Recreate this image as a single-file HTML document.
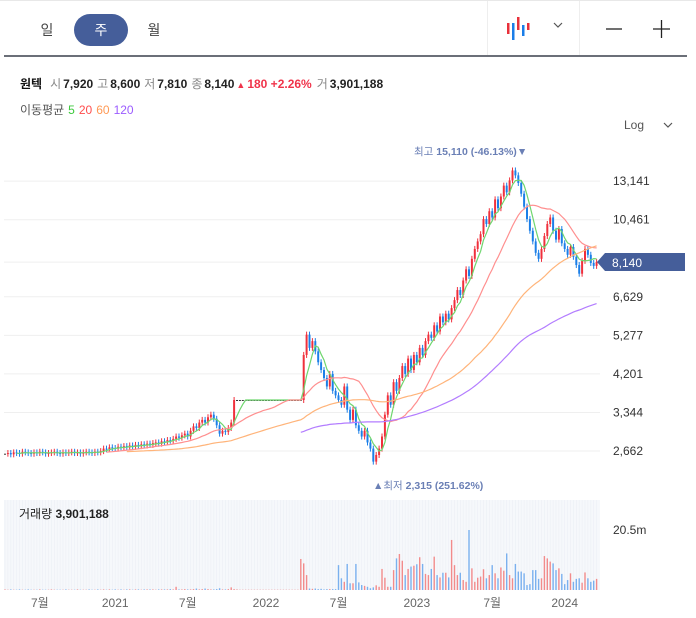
<!DOCTYPE html>
<html><head><meta charset="utf-8">
<style>
body{margin:0;width:696px;height:618px;overflow:hidden;background:#fff;font-family:"Liberation Sans","Noto Sans CJK KR",sans-serif;}
svg{display:block}
text{font-family:"Liberation Sans","Noto Sans CJK KR",sans-serif;}
</style></head><body>
<svg id="chart" width="696" height="618" viewBox="0 0 696 618" xmlns="http://www.w3.org/2000/svg">
 <g>
  <line x1="0" y1="0.5" x2="696" y2="0.5" stroke="#e8e8e8"/>
  <line x1="4" y1="56" x2="687" y2="56" stroke="#6b6f78" stroke-width="2"/>
  <line x1="487.5" y1="1" x2="487.5" y2="55" stroke="#eee"/>
  <line x1="579.5" y1="1" x2="579.5" y2="55" stroke="#eee"/>
  <text x="47" y="35" font-size="14" fill="#444" text-anchor="middle">일</text>
  <rect x="74" y="14" width="54" height="32" rx="16" fill="#455e9a"/>
  <text x="101" y="35" font-size="14" fill="#fff" text-anchor="middle">주</text>
  <text x="154" y="35" font-size="14" fill="#444" text-anchor="middle">월</text>
  <g>
   <rect x="507" y="23" width="2.5" height="11" fill="#e8303a"/>
   <rect x="512" y="23" width="2.5" height="17" fill="#1a7ee8"/>
   <rect x="517" y="17" width="2.5" height="13" fill="#e8303a"/>
   <rect x="522" y="25" width="2.5" height="11" fill="#1a7ee8"/>
   <rect x="527" y="23" width="2.5" height="7" fill="#e8303a"/>
  </g>
  <path d="M554 23 L558 27 L562 23" stroke="#555" fill="none" stroke-width="1.2"/>
  <line x1="606" y1="29" x2="622" y2="29" stroke="#222" stroke-width="1.3"/>
  <g><line x1="653" y1="29" x2="670" y2="29" stroke="#222" stroke-width="1.3"/><line x1="661.5" y1="20" x2="661.5" y2="38" stroke="#222" stroke-width="1.3"/></g>
 </g>
 <g font-size="12">
  <text x="20" y="88"><tspan font-weight="bold" fill="#111">원텍</tspan><tspan fill="#888" dx="8">시</tspan><tspan fill="#222" dx="2" font-weight="bold">7,920</tspan><tspan fill="#888" dx="4">고</tspan><tspan fill="#222" dx="2" font-weight="bold">8,600</tspan><tspan fill="#888" dx="4">저</tspan><tspan fill="#222" dx="2" font-weight="bold">7,810</tspan><tspan fill="#888" dx="4">종</tspan><tspan fill="#222" dx="2" font-weight="bold">8,140</tspan><tspan fill="#f0334a" dx="2" font-size="9">▲</tspan><tspan fill="#f0334a" dx="2" font-weight="bold">180 +2.26%</tspan><tspan fill="#888" dx="5">거</tspan><tspan fill="#222" dx="2" font-weight="bold">3,901,188</tspan></text>
  <text x="20" y="114"><tspan fill="#555">이동평균</tspan><tspan fill="#3cc93c" dx="4">5</tspan><tspan fill="#ff4d4d" dx="4">20</tspan><tspan fill="#ff9955" dx="4">60</tspan><tspan fill="#9b5cff" dx="4">120</tspan></text>
  <text x="624" y="129" fill="#555">Log</text>
  <path d="M664 123 L668 127 L672 123" stroke="#555" fill="none" stroke-width="1.2"/>
 </g>
 <g id="grid"></g>
 <g id="yaxis" font-size="12" fill="#333"></g>
 <rect x="4" y="500" width="596" height="90" fill="#f6f8fb"/>
 <g id="vgrid"></g>
 <g id="candles"></g>
 <g id="mas"></g>
 <g id="vols"></g>
 <g id="xaxis" font-size="12" fill="#666"></g>
 <text x="19" y="518" font-size="12" fill="#222">거래량 <tspan font-weight="bold">3,901,188</tspan></text>
 <text x="613" y="534" font-size="12" fill="#333">20.5m</text>
 <text x="414" y="155" font-size="10.5" fill="#6a7fb5">최고 <tspan font-weight="bold">15,110 (-46.13%)</tspan>▼</text>
 <text x="373" y="489" font-size="10.5" fill="#6a7fb5">▲최저 <tspan font-weight="bold">2,315 (251.62%)</tspan></text>
 <g>
  <path d="M597 262 L605 253 L685 253 L685 271 L605 271 Z" fill="#455e9a"/>
  <text x="612" y="267" font-size="12" fill="#fff">8,140</text>
 </g>
</svg>
<script>
const closes=[2620,2630,2610,2640,2630,2620,2650,2640,2630,2620,2640,2630,2650,2640,2620,2630,2640,2650,2630,2620,2640,2630,2640,2650,2630,2640,2620,2640,2650,2640,2630,2650,2640,2660,
2700,2690,2720,2710,2700,2730,2720,2740,2720,2750,2730,2760,2740,2770,2750,2780,2760,
2790,2800,2780,2820,2810,2840,2830,2860,2900,2880,
2920,2950,2900,3000,3080,3050,3150,3200,3150,3250,3300,3220,
3100,2950,3000,2980,3050,3150,
3600,3600,3600,3600,3600,3600,3600,3600,3600,3600,3600,3600,3600,3600,3600,3600,3600,3600,3600,3600,3600,3600,3600,3600,
4700,5300,4900,5100,4800,
4500,4300,4100,3900,4200,3800,3700,3600,3500,3900,3400,
3200,3400,3100,3000,2900,3000,2800,2700,2500,2600,
2700,2900,3300,3700,3500,4000,3800,
4100,4400,4200,4600,4300,4700,4500,4900,4700,5100,
5300,5200,5600,5400,5900,5700,6000,5800,6200,6500,
6900,6700,7300,7800,7500,8300,8800,9200,9600,10500,10200,
11000,10600,11800,11200,12000,12800,12300,13200,14000,13600,13000,
12200,11300,10500,9800,9200,8600,8300,8800,9500,
10200,10600,9800,9300,9900,9100,8800,8500,8900,8400,
8000,7600,8200,8800,8500,8100,7960,8140];
const volumes=[0.2,0.1,0.2,0.1,0.1,0.2,0.1,0.1,0.2,0.1,0.1,0.1,0.2,0.1,0.1,0.1,0.2,0.1,0.1,0.1,
0.1,0.2,0.1,0.1,0.1,0.2,0.1,0.1,0.1,0.2,0.1,0.1,0.2,0.1,0.2,0.1,0.2,0.1,0.2,0.1,
0.2,0.1,0.2,0.2,0.1,0.2,0.2,0.1,0.2,0.2,0.2,0.2,0.1,0.2,0.2,0.2,0.2,0.3,0.2,1.1,
0.2,0.2,0.3,0.2,0.2,0.3,0.5,0.2,0.3,0.5,0.3,0.2,0.2,0.3,0.6,0.2,0.2,0.3,0.9,0.3,
0.2,0.1,0.1,0.1,0.1,0.1,0.1,0.1,0.1,0.1,0.1,0.1,0.1,0.1,0.1,0.1,0.1,0.1,0.1,0.1,
0.1,0.1,
10.6,9.1,5.1,0.5,0.4,0.5,0.3,0.4,0.2,0.3,0.3,0.3,0.3,8.5,4,2.8,8.9,2.3,2.3,8.9,
2.6,1.7,1.4,1.1,0.6,0.9,1.6,1.1,7.2,4.2,1.1,1.1,6.8,10.8,12.3,10,5.1,7.2,8,8.3,
8.8,11.2,8.9,5.5,5.1,7.2,11.4,5.1,4.3,5.9,5.9,4.3,17.1,8.5,5.1,5.9,3.4,2.8,20.5,7.4,
2.8,4.2,4.6,7.1,4,5.1,8.5,5.7,4,7.7,6.6,12.5,5.1,4,8.9,6.3,6.3,5.7,1.7,2,
6.8,6.8,3.8,4,11.6,10.8,9.7,9.1,6.8,7.4,5.5,2,3.4,5.7,2.8,3.8,4,2.5,6,4,2.8,3.2,3.8];
const tickValues=[13141,10461,8140,6629,5277,4201,3344,2662];
const tickLabels=["13,141","10,461","","6,629","5,277","4,201","3,344","2,662"];
const timeLabels=["7월","2021","7월","2022","7월","2023","7월","2024"];
const timeIndex=[12,38,63,90,115,142,168,193];
const maPeriods=[5,20,60,120];
const maStarts=[4,35,42,102];
const maColors=["#6fd66f","#ff8f8f","#ffb47a","#b37dff"];

const NS="http://www.w3.org/2000/svg";
const X0=5,STEP=2.9;
const xOf=i=>X0+STEP*i;
const yOf=p=>451-169*Math.log(p/2662);
const vY=v=>590-v/20.5*60;
function mk(tag,attrs,parent){const e=document.createElementNS(NS,tag);for(const k in attrs)e.setAttribute(k,attrs[k]);parent.appendChild(e);return e;}

const grid=document.getElementById('grid'),yax=document.getElementById('yaxis');
tickValues.forEach((v,k)=>{
 const l=mk('line',{x1:4,x2:600,y1:yOf(v),y2:yOf(v),stroke:'#efefef'},grid);
 
 
 if(tickLabels[k]){const t=mk('text',{x:613,y:yOf(v)+4},yax);t.textContent=tickLabels[k];
 
 }
});
const vg=document.getElementById('vgrid');
for(let i=0;i<closes.length;i++){mk('line',{x1:xOf(i),x2:xOf(i),y1:500,y2:590,stroke:'#eceff5','stroke-width':0.6},vg);}

const cg=document.getElementById('candles'),vb=document.getElementById('vols');
closes.forEach((c,i)=>{
 const o=i?closes[i-1]:c;
 const col=c>o?'#f0303c':(c<o?'#1b7fe8':'#333');
 const y1=yOf(Math.max(o,c)),y2=yOf(Math.min(o,c));
 if(c!==o){
  const w=mk('line',{x1:xOf(i),x2:xOf(i),y1:y1-3,y2:y2+3,stroke:col,'stroke-width':1},cg);
  
  
 }
 const r=mk('rect',{x:xOf(i)-1,y:y1,width:2,height:Math.max(1,y2-y1),fill:col},cg);
 
 
 const v=volumes[i];
 const vr=mk('rect',{x:xOf(i)-0.7,y:vY(v),width:1.4,height:590-vY(v),fill:c>=o?'#f28b8b':'#7ab0ee'},vb);
 
 
});

const mg=document.getElementById('mas');
maPeriods.forEach((n,k)=>{
 let pts=[];
 for(let i=maStarts[k];i<closes.length;i++){
  const s=Math.max(0,i-n+1);let sum=0;for(let j=s;j<=i;j++)sum+=closes[j];
  pts.push(xOf(i).toFixed(1)+','+yOf(sum/(i-s+1)).toFixed(1));
 }
 const p=mk('polyline',{points:pts.join(' '),fill:'none',stroke:maColors[k],'stroke-width':1.2},mg);
 
 
});

const xa=document.getElementById('xaxis');
timeLabels.forEach((s,k)=>{const t=mk('text',{x:xOf(timeIndex[k]),y:607,'text-anchor':'middle'},xa);t.textContent=s;
 
 });
</script>
</body></html>
